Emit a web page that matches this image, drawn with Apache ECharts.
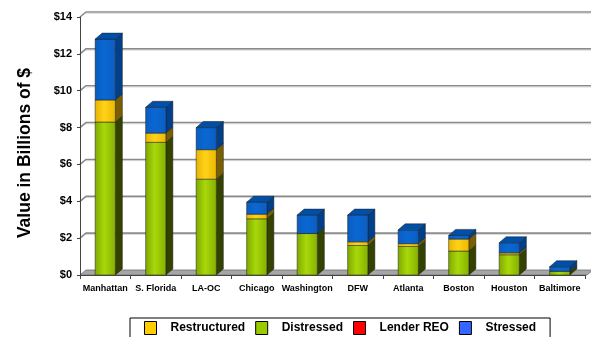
<!DOCTYPE html>
<html>
<head>
<meta charset="utf-8">
<script src="https://cdn.jsdelivr.net/npm/echarts@6/dist/echarts.min.js"></script>
<style>
  html, body { margin: 0; padding: 0; background: #fff; }
  #chart { width: 591px; height: 337px; }
</style>
</head>
<body>
<div id="chart"></div>
<script>
// Markets and loan values in billions of dollars
var markets = ['Manhattan', 'S. Florida', 'LA-OC', 'Chicago', 'Washington', 'DFW', 'Atlanta', 'Boston', 'Houston', 'Baltimore'];
var distressed   = [8.3, 7.2, 5.2, 3.05, 2.25, 1.6, 1.55, 1.3, 1.1, 0.2];
var restructured = [1.2, 0.5, 1.6, 0.25, 0, 0.2, 0.15, 0.65, 0.1, 0];
var lenderREO    = [0, 0, 0, 0, 0, 0, 0, 0, 0, 0];
var stressed     = [3.3, 1.4, 1.2, 0.65, 1.0, 1.45, 0.75, 0.2, 0.55, 0.25];
var yTicks = [0, 2, 4, 6, 8, 10, 12, 14];

var FONT = '"Liberation Sans", Arial, sans-serif';
var DX = 7, DY = -6;          // bar depth offset
var WX = 6, WY = -5;          // wall depth offset

// stacking order from the floor upward
var stackOrder = [
  { name: 'Distressed',   data: distressed,   legend: '#99CC00',
    face: ['#7fa800', '#a8d80a', '#86b000'], side: '#344200', top: '#b4dc2a' },
  { name: 'Restructured', data: restructured, legend: '#FFCC00',
    face: ['#e6b400', '#ffd21a', '#eab800'], side: '#7a5f00', top: '#ffe066' },
  { name: 'Lender REO',   data: lenderREO,    legend: '#FF0000',
    face: ['#d00000', '#ff2020', '#d80000'], side: '#700000', top: '#ff6060' },
  { name: 'Stressed',     data: stressed,     legend: '#3366FF',
    face: ['#0a5cc0', '#0a68d2', '#0a5ec4'], side: '#003f8a', top: '#0050aa' }
];

function baseOf(level, i) {
  var s = 0;
  for (var k = 0; k < level; k++) s += stackOrder[k].data[i];
  return s;
}
function isTopmost(level, i) {
  for (var k = level + 1; k < stackOrder.length; k++) {
    if (stackOrder[k].data[i] > 0) return false;
  }
  return true;
}

function segmentRenderer(level) {
  var st = stackOrder[level];
  return function (params, api) {
    var i = api.value(0);
    var v = api.value(1);
    if (!(v > 0)) return null;
    var base = baseOf(level, i);
    var xc = api.coord([i, 0])[0];
    var hw = api.size([1, 0])[0] * 0.2;
    var yTop = api.coord([i, base + v])[1];
    var yBot = api.coord([i, base])[1];
    var xl = xc - hw, xr = xc + hw;
    var children = [
      { type: 'polygon',
        shape: { points: [[xr, yTop], [xr + DX, yTop + DY], [xr + DX, yBot + DY], [xr, yBot]] },
        style: { fill: st.side, stroke: '#1a1a1a', lineWidth: 0.5 } },
      { type: 'rect',
        shape: { x: xl, y: yTop, width: xr - xl, height: yBot - yTop },
        style: {
          fill: new echarts.graphic.LinearGradient(0, 0, 1, 0, [
            { offset: 0, color: st.face[0] },
            { offset: 0.45, color: st.face[1] },
            { offset: 1, color: st.face[2] }
          ]),
          stroke: '#1a1a1a', lineWidth: 0.5
        } }
    ];
    if (isTopmost(level, i)) {
      children.push({ type: 'polygon',
        shape: { points: [[xl, yTop], [xr, yTop], [xr + DX, yTop + DY], [xl + DX, yTop + DY]] },
        style: { fill: st.top, stroke: '#1a1a1a', lineWidth: 0.5 } });
    }
    return { type: 'group', children: children };
  };
}

// back wall gridlines and floor
function wallRenderer(params, api) {
  var cs = params.coordSys;
  var v = api.value(1);
  var y = api.coord([0, v])[1];
  var x0 = cs.x, x1 = cs.x + cs.width;
  if (v === 0) {
    return { type: 'group', children: [
      { type: 'polygon',
        shape: { points: [[x0, y], [x1 + 2, y], [x1 + 2 + WX, y + WY], [x0 + WX, y + WY]] },
        style: { fill: '#a6a6a6', stroke: '#6e6e6e', lineWidth: 0.8 } }
    ] };
  }
  return { type: 'group', children: [
    { type: 'polyline',
      shape: { points: [[x0, y], [x0 + WX, y + WY], [x1 + 20, y + WY]] },
      style: { fill: null, stroke: '#8a8a8a', lineWidth: 1.6 } },
    { type: 'line',
      shape: { x1: x0 + WX, y1: y + WY + 1.2, x2: x1 + 20, y2: y + WY + 1.2 },
      style: { stroke: '#c8c8c8', lineWidth: 0.8 } }
  ] };
}

var series = [{
  type: 'custom',
  name: 'wall',
  renderItem: wallRenderer,
  data: yTicks.map(function (t) { return [0, t]; }),
  encode: { x: 0, y: 1 },
  clip: false,
  silent: true,
  z: 1
}];
stackOrder.forEach(function (st, level) {
  series.push({
    type: 'custom',
    name: st.name,
    renderItem: segmentRenderer(level),
    data: st.data.map(function (v, i) { return [i, v]; }),
    encode: { x: 0, y: 1 },
    itemStyle: { color: st.legend },
    clip: false,
    z: 3 + level
  });
});

var chart = echarts.init(document.getElementById('chart'), null, { renderer: 'canvas' });
chart.setOption({
  animation: false,
  backgroundColor: '#ffffff',
  grid: { left: 80, right: 6, top: 17, bottom: 62 },
  xAxis: {
    type: 'category',
    data: markets,
    axisLine: { show: true, lineStyle: { color: '#444', width: 1 } },
    axisTick: { show: true, length: 4, alignWithLabel: false, lineStyle: { color: '#444' } },
    axisLabel: { color: '#000', fontFamily: FONT, fontWeight: 'bold', fontSize: 9, margin: 9, interval: 0 },
    z: 10
  },
  yAxis: {
    type: 'value',
    min: 0, max: 14, interval: 2,
    axisLine: { show: true, lineStyle: { color: '#444', width: 1 } },
    axisTick: { show: true, length: 3, lineStyle: { color: '#444' } },
    splitLine: { show: false },
    axisLabel: {
      color: '#000', fontFamily: FONT, fontWeight: 'bold', fontSize: 11, margin: 8,
      formatter: function (v) { return '$' + v; }
    },
    z: 10
  },
  legend: {
    data: ['Restructured', 'Distressed', 'Lender REO', 'Stressed'],
    left: 130,
    top: 318,
    orient: 'horizontal',
    icon: 'rect',
    itemWidth: 12,
    itemHeight: 13,
    itemGap: 10,
    padding: [3, 14, 12, 14],
    borderColor: '#000',
    borderWidth: 1,
    selectedMode: false,
    itemStyle: { borderColor: '#000', borderWidth: 1 },
    textStyle: { color: '#000', fontFamily: FONT, fontWeight: 'bold', fontSize: 12, padding: [0, 0, 0, 9] }
  },
  graphic: [{
    type: 'text',
    x: 25,
    y: 153,
    rotation: Math.PI / 2,
    style: {
      text: 'Value in Billions of $',
      fill: '#000',
      font: 'bold 17.5px ' + FONT,
      align: 'center',
      verticalAlign: 'middle'
    }
  }],
  series: series
});
</script>
</body>
</html>
